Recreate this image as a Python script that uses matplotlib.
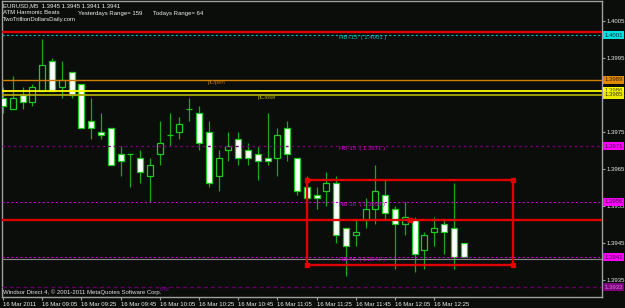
import matplotlib
matplotlib.use("Agg")
import matplotlib.pyplot as plt
import numpy as np

plt.rcParams['font.family'] = ['Liberation Sans', 'DejaVu Sans']

# ---- data (EURUSD M5, 16 Mar 2011, bars from 08:45) ----
opens = [1.3984, 1.3981, 1.3985, 1.3983, 1.3986, 1.3994, 1.3987, 1.3991, 1.3988, 1.3978,
         1.3975, 1.3976, 1.3969, 1.3969, 1.3968, 1.3963, 1.3969, 1.3974, 1.3975, 1.3981,
         1.3980, 1.3975, 1.3963, 1.3970, 1.3973, 1.3970, 1.3969, 1.3968, 1.3968, 1.3976,
         1.3968, 1.3960, 1.3958, 1.3959, 1.3961, 1.3949, 1.3947, 1.3951, 1.3954, 1.3958,
         1.3954, 1.3950, 1.3951, 1.3943, 1.3948, 1.3950, 1.3949, 1.3945]
highs = [1.3987, 1.3990, 1.3987, 1.3988, 1.4000, 1.3995, 1.3994, 1.3991, 1.3988, 1.3984,
         1.3980, 1.3976, 1.3971, 1.3969, 1.3970, 1.3968, 1.3978, 1.3980, 1.3979, 1.3984,
         1.3982, 1.3978, 1.3970, 1.3975, 1.3975, 1.3972, 1.3971, 1.3980, 1.3976, 1.3978,
         1.3968, 1.3963, 1.3960, 1.3964, 1.3963, 1.3949, 1.3951, 1.3957, 1.3966, 1.3962,
         1.3955, 1.3956, 1.3952, 1.3948, 1.3952, 1.3951, 1.3961, 1.3945]
lows = [1.3980, 1.3981, 1.3981, 1.3982, 1.3986, 1.3986, 1.3984, 1.3984, 1.3976, 1.3973,
        1.3973, 1.3966, 1.3963, 1.3960, 1.3961, 1.3956, 1.3966, 1.3971, 1.3973, 1.3978,
        1.3970, 1.3960, 1.3959, 1.3967, 1.3966, 1.3966, 1.3962, 1.3966, 1.3963, 1.3967,
        1.3958, 1.3957, 1.3954, 1.3955, 1.3945, 1.3936, 1.3944, 1.3949, 1.3950, 1.3951,
        1.3938, 1.3947, 1.3937, 1.3938, 1.3944, 1.3942, 1.3938, 1.3941]
closes = [1.3982, 1.3984, 1.3983, 1.3987, 1.3993, 1.3986, 1.3989, 1.3985, 1.3976, 1.3976,
          1.3974, 1.3966, 1.3967, 1.3969, 1.3964, 1.3966, 1.3972, 1.3974, 1.3977, 1.3981,
          1.3972, 1.3961, 1.3968, 1.3971, 1.3968, 1.3968, 1.3967, 1.3967, 1.3974, 1.3969,
          1.3959, 1.3957, 1.3957, 1.3961, 1.3947, 1.3944, 1.3948, 1.3954, 1.3959, 1.3953,
          1.3950, 1.3952, 1.3942, 1.3947, 1.3949, 1.3948, 1.3941, 1.3941]

time_tick_bars = [0, 4, 8, 12, 16, 20, 24, 28, 32, 36, 40, 44]
time_tick_labels = ["16 Mar 2011", "16 Mar 09:05", "16 Mar 09:25", "16 Mar 09:45",
                    "16 Mar 10:05", "16 Mar 10:25", "16 Mar 10:45", "16 Mar 11:05",
                    "16 Mar 11:25", "16 Mar 11:45", "16 Mar 12:05", "16 Mar 12:25"]
price_ticks = [1.3935, 1.3945, 1.3955, 1.3965, 1.3975, 1.3985, 1.3995, 1.4005]

# horizontal levels
red_top = 1.4002
hb_plus15 = 1.4001
p_open = 1.3989
yellow_level = 1.3986
p_close = 1.3985
hb_minus15 = 1.3971
hb_minus30 = 1.3956
red_mid = 1.3951
hb_minus45 = 1.3941
bid = 1.3941
mid_level = 1.3933

rect_bars = [31, 52]
rect_prices = [1.3939, 1.3962]
red_mid_anchor = 41.5

# ---- figure ----
BG = '#0a0d0a'
fig = plt.figure(figsize=(6.25, 3.08), dpi=100, facecolor=BG)
ax = fig.add_axes([2/625, 11/308, 600/625, 296/308], facecolor=BG)
ax.set_xlim(-0.102, 61.12)
ax.set_ylim(1.393032, 1.401032)

n = len(opens)
x = np.arange(n)
o = np.array(opens); h = np.array(highs); l = np.array(lows); c = np.array(closes)
ax.vlines(x, l, h, color='#18a818', lw=0.9, zorder=2)
bull = c >= o
body_bottom = np.minimum(o, c)
body_h = np.abs(c - o)
ax.bar(x[bull], body_h[bull], bottom=body_bottom[bull], width=0.62,
       color=BG, edgecolor='#22c822', linewidth=0.9, zorder=3)
ax.bar(x[~bull], body_h[~bull], bottom=body_bottom[~bull], width=0.62,
       color='white', edgecolor='#22c822', linewidth=0.9, zorder=3)

# levels
ax.axhline(red_top, color='#e00000', lw=1.7, zorder=5)
ax.axhline(hb_plus15, color='#00b4b4', lw=0.8, ls=(0, (2, 2)), zorder=5)
ax.axhline(p_open, color='#d08000', lw=1.0, zorder=5)
ax.axhline(yellow_level, color='#ffff00', lw=1.3, zorder=5)
ax.axhline(p_close, color='#a8a800', lw=1.3, zorder=5)
ax.axhline(hb_minus15, color='#700070', lw=1.0, ls=(0, (2, 2)), zorder=5)
ax.axhline(hb_minus30, color='#c000c0', lw=0.8, ls=(0, (2, 2)), zorder=5)
ax.axhline(red_mid, color='#e00000', lw=1.7, zorder=5)
ax.axhline(bid - 0.00003, color='#8a8a8a', lw=0.8, zorder=5)
ax.axhline(hb_minus45, color='#c000c0', lw=0.8, ls=(0, (2, 2)), zorder=5)
ax.axhline(mid_level, color='#600060', lw=1.0, ls=(0, (3, 2)), zorder=5)
ax.plot([red_mid_anchor], [red_mid], 's', color='#e00000', ms=3, zorder=6)

# rectangle
rx0, rx1 = rect_bars
ry0, ry1 = rect_prices
ax.plot([rx0, rx1, rx1, rx0, rx0], [ry1, ry1, ry0, ry0, ry1], color='#e00000', lw=1.7, zorder=6)
ax.plot([rx0, rx1, rx1, rx0], [ry1, ry1, ry0, ry0], 's', color='#e00000', ms=3.2, zorder=7)

# labels on chart
fs = 4.3
ax.text(34.3, hb_plus15, "HB+15  ( 1.4001 )", color='#00c0c0', fontsize=fs, va='top', zorder=8)
ax.text(34.3, hb_minus15, "HB-15  ( 1.3971 )", color='#d000d0', fontsize=fs, va='top', zorder=8)
ax.text(34.3, hb_minus30, "HB-30  ( 1.3956 )", color='#d000d0', fontsize=fs, va='top', zorder=8)
ax.text(34.3, hb_minus45, "HB-45  ( 1.3941 )", color='#d000d0', fontsize=fs, va='top', zorder=8)
ax.text(20.9, p_open, "pOpen", color='#b06a10', fontsize=fs, va='top', zorder=8)
ax.text(26.0, p_close, "pClose", color='#b0a000', fontsize=fs, va='top', zorder=8)
ax.text(16.0, mid_level, "Mid", color='#8000a0', fontsize=fs, va='top', zorder=8)

# header / footer
fig.text(3/625, 1 - 6/308, "EURUSD,M5  1.3945 1.3945 1.3941 1.3941", color='#f0f0f0', fontsize=fs, va='center')
fig.text(3/625, 1 - 13/308, "ATM Harmonic Beats", color='#f0f0f0', fontsize=fs, va='center')
fig.text(78/625, 1 - 13/308, "Yesterdays Range= 159", color='#f0f0f0', fontsize=fs, va='center')
fig.text(153/625, 1 - 13/308, "Todays Range= 64", color='#f0f0f0', fontsize=fs, va='center')
fig.text(3/625, 1 - 20/308, "TwoTrillionDollarsDaily.com", color='#f0f0f0', fontsize=fs, va='center')
fig.text(3/625, 1 - 292/308, "Windsor Direct 4, \u00a9 2001-2011 MetaQuotes Software Corp.",
         color='#e0e0e0', fontsize=fs, va='center', zorder=9)

# right price boxes
boxes = [(hb_plus15, '#00e0e0', '#003030'), (p_open, '#e08a00', '#402000'),
         (yellow_level, '#ffff00', '#404000'), (p_close, '#e8e800', '#404000'),
         (hb_minus15, '#ff00ff', '#400040'), (hb_minus30, '#ff00ff', '#400040'),
         (hb_minus45, '#ff00ff', '#400040'), (mid_level, '#800080', '#d080d0')]
for lvl, fc, tc in boxes:
    ax.annotate(f"{lvl:.4f}", xy=(1.004, lvl), xycoords=('axes fraction', 'data'),
                fontsize=fs, color=tc, va='center', ha='left', annotation_clip=False,
                bbox=dict(boxstyle='square,pad=0.25', fc=fc, ec='none'), zorder=10)

# axes styling
ax.yaxis.tick_right()
ax.set_yticks(price_ticks)
ax.set_yticklabels([f"{p:.4f}" for p in price_ticks])
ax.set_xticks(time_tick_bars)
ax.set_xticklabels(time_tick_labels)
for lab in ax.get_xticklabels():
    lab.set_ha('left')
ax.tick_params(axis='both', colors='#a0a0a0', labelcolor='#e8e8e8', labelsize=fs,
               length=2, width=0.8, pad=1.5)
for s in ax.spines.values():
    s.set_color('#a0a0a0')
    s.set_linewidth(1.0)

fig.savefig("out.png", dpi=100, facecolor=BG)
